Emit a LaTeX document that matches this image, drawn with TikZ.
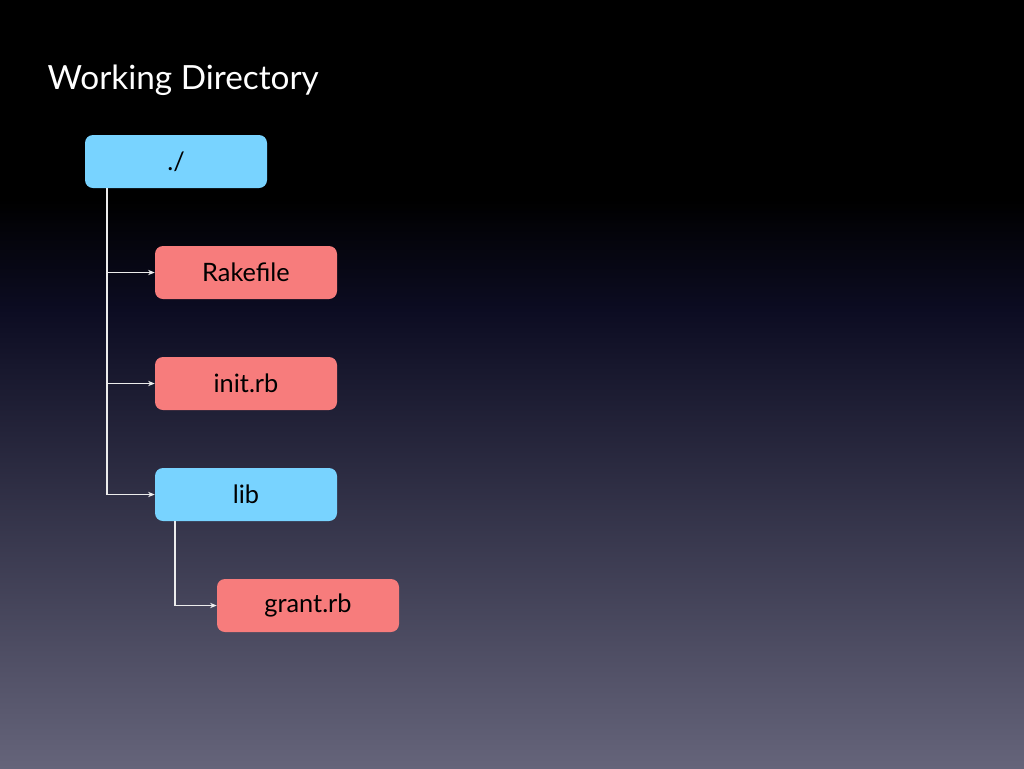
\documentclass[tikz,border=0pt]{standalone}
\usepackage{fontspec}
\setmainfont{Lato}
\usetikzlibrary{arrows.meta}
\definecolor{bblue}{HTML}{78D3FF}
\definecolor{bred}{HTML}{F77C7C}
\definecolor{bgbot}{HTML}{65647A}
\definecolor{bgmid}{HTML}{0C0C22}
\begin{document}
\begin{tikzpicture}[x=0.75pt,y=-0.75pt,
  box/.style={rounded corners=6pt,minimum width=136.5pt,minimum height=39.75pt,inner sep=0pt,font=\fontsize{19}{22}\selectfont,text=black},
  conn/.style={draw=white!85!gray,line width=0.8pt,-{Stealth[length=5pt,width=4pt]}}]
\fill[black] (0,0) rectangle (1024,200);
\shade[top color=black,bottom color=bgmid] (0,199) rectangle (1024,310);
\shade[top color=bgmid,bottom color=bgbot] (0,309) rectangle (1024,768);
\useasboundingbox (0,0) rectangle (1024,768);
\node[anchor=base west,text=white,font=\fontsize{25}{30}\selectfont] (title) at (43,89) {Working Directory};
\node[box,fill=bblue] (root) at (176,161.5) {./};
\node[box,fill=bred] (rake) at (246,272.5) {Rakefile};
\node[box,fill=bred] (init) at (246,383.5) {init.rb};
\node[box,fill=bblue] (lib) at (246,494.5) {lib};
\node[box,fill=bred] (grant) at (308,605.5) {grant.rb};
\draw[draw=white!85!gray,line width=0.8pt] (root.south -| 107,0) -- (107,494.5);
\draw[conn] (107,272.5) -- (rake.west);
\draw[conn] (107,383.5) -- (init.west);
\draw[conn] (107,494.5) -- (lib.west);
\draw[conn] (lib.south -| 175,0) |- (grant.west);
\end{tikzpicture}
\end{document}
